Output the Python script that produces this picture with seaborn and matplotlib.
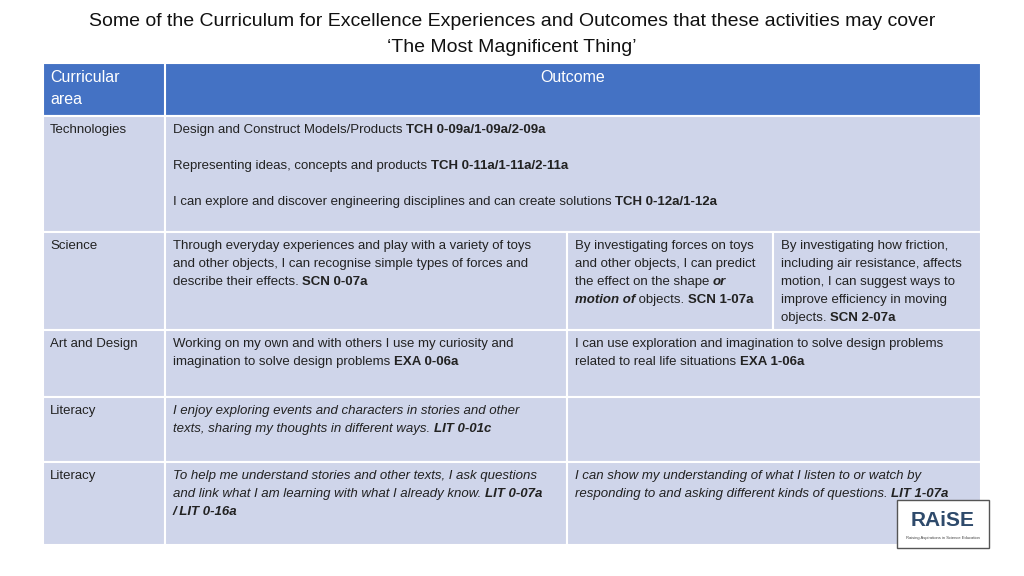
import matplotlib
matplotlib.use("Agg")
import matplotlib.pyplot as plt
import seaborn as sns
from matplotlib.patches import Rectangle

sns.set_theme(style="white")
FONT = "Liberation Sans"

title_lines = ["Some of the Curriculum for Excellence Experiences and Outcomes that these activities may cover",
               "\u2018The Most Magnificent Thing\u2019"]
header = ["Curricular\narea", "Outcome"]
areas = ["Technologies", "Science", "Art and Design", "Literacy", "Literacy"]

# cell texts: list of lines, each line a list of (text, style) runs; n=normal b=bold i=italic bi=bold italic
tech = [[("Design and Construct Models/Products ", "n"), ("TCH 0-09a/1-09a/2-09a", "b")], [],
        [("Representing ideas, concepts and products ", "n"), ("TCH 0-11a/1-11a/2-11a", "b")], [],
        [("I can explore and discover engineering disciplines and can create solutions ", "n"), ("TCH 0-12a/1-12a", "b")]]
sci0 = [[("Through everyday experiences and play with a variety of toys", "n")],
        [("and other objects, I can recognise simple types of forces and", "n")],
        [("describe their effects. ", "n"), ("SCN 0-07a", "b")]]
sci1 = [[("By investigating forces on toys", "n")],
        [("and other objects, I can predict", "n")],
        [("the effect on the shape ", "n"), ("or", "bi")],
        [("motion of", "bi"), (" objects. ", "n"), ("SCN 1-07a", "b")]]
sci2 = [[("By investigating how friction,", "n")],
        [("including air resistance, affects", "n")],
        [("motion, I can suggest ways to", "n")],
        [("improve efficiency in moving", "n")],
        [("objects. ", "n"), ("SCN 2-07a", "b")]]
art0 = [[("Working on my own and with others I use my curiosity and", "n")],
        [("imagination to solve design problems ", "n"), ("EXA 0-06a", "b")]]
art1 = [[("I can use exploration and imagination to solve design problems", "n")],
        [("related to real life situations ", "n"), ("EXA 1-06a", "b")]]
lit0 = [[("I enjoy exploring events and characters in stories and other", "i")],
        [("texts, sharing my thoughts in different ways. ", "i"), ("LIT 0-01c", "bi")]]
lit10 = [[("To help me understand stories and other texts, I ask questions", "i")],
         [("and link what I am learning with what I already know. ", "i"), ("LIT 0-07a", "bi")],
         [("/ LIT 0-16a", "bi")]]
lit11 = [[("I can show my understanding of what I listen to or watch by", "i")],
         [("responding to and asking different kinds of questions. ", "i"), ("LIT 1-07a", "bi")]]

# geometry in pixels
col_x = [43, 165, 567, 773, 981]
row_y = [63, 116, 232, 330, 397, 462, 545]
cells = [  # (row, col_start, col_end, content)
    (0, 1, 4, tech), (1, 1, 2, sci0), (1, 2, 3, sci1), (1, 3, 4, sci2),
    (2, 1, 2, art0), (2, 2, 4, art1), (3, 1, 2, lit0), (3, 2, 4, []),
    (4, 1, 2, lit10), (4, 2, 4, lit11)]

fig = plt.figure(figsize=(10.24, 5.76), dpi=100)
ax = fig.add_axes([0, 0, 1, 1])
ax.set_xlim(0, 1024)
ax.set_ylim(576, 0)
ax.axis("off")
r = fig.canvas.get_renderer()

def runs(x, y, line, size=9.5):
    for txt, st in line:
        t = ax.text(x, y, txt, fontsize=size, family=FONT, va="top", ha="left",
                    fontweight="bold" if "b" in st else "normal",
                    fontstyle="italic" if "i" in st else "normal", color="#222222")
        bb = t.get_window_extent(renderer=r)
        x += bb.width

def cell(x, y, lines):
    for k, line in enumerate(lines):
        runs(x, y + k * 18, line)

for i, t in enumerate(title_lines):
    ax.text(512, 21 + 26 * i, t, fontsize=14, family=FONT, ha="center", va="center", color="#111111")

lav = "#CFD5EA"
ax.add_patch(Rectangle((col_x[0], row_y[0]), col_x[-1] - col_x[0], row_y[1] - row_y[0],
                       facecolor="#4472C4", edgecolor="white", lw=1.5))
ax.plot([col_x[1]] * 2, [row_y[0], row_y[1]], color="white", lw=1.5)
ax.text(50, 70, header[0], fontsize=11.5, family=FONT, color="white", va="top", linespacing=1.6)
ax.text(573, 70, header[1], fontsize=11.5, family=FONT, color="white", va="top", ha="center")

for i, a in enumerate(areas):
    y0, y1 = row_y[i + 1], row_y[i + 2]
    ax.add_patch(Rectangle((col_x[0], y0), col_x[1] - col_x[0], y1 - y0, facecolor=lav, edgecolor="white", lw=1.5))
    cell(50, y0 + 8, [[(a, "n")]])
for row, c0, c1, content in cells:
    y0, y1 = row_y[row + 1], row_y[row + 2]
    ax.add_patch(Rectangle((col_x[c0], y0), col_x[c1] - col_x[c0], y1 - y0, facecolor=lav, edgecolor="white", lw=1.5))
    cell(col_x[c0] + 8, y0 + 8, content)

# logo
ax.add_patch(Rectangle((897, 500), 92, 48, facecolor="white", edgecolor="#555555", lw=1))
ax.text(943, 520, "RAiSE", fontsize=15, fontweight="bold", family=FONT, ha="center", va="center", color="#2E4A6B")
ax.text(943, 538, "Raising Aspirations in Science Education", fontsize=3, family=FONT, ha="center", va="center", color="#444444")

fig.savefig("out.png", dpi=100)
